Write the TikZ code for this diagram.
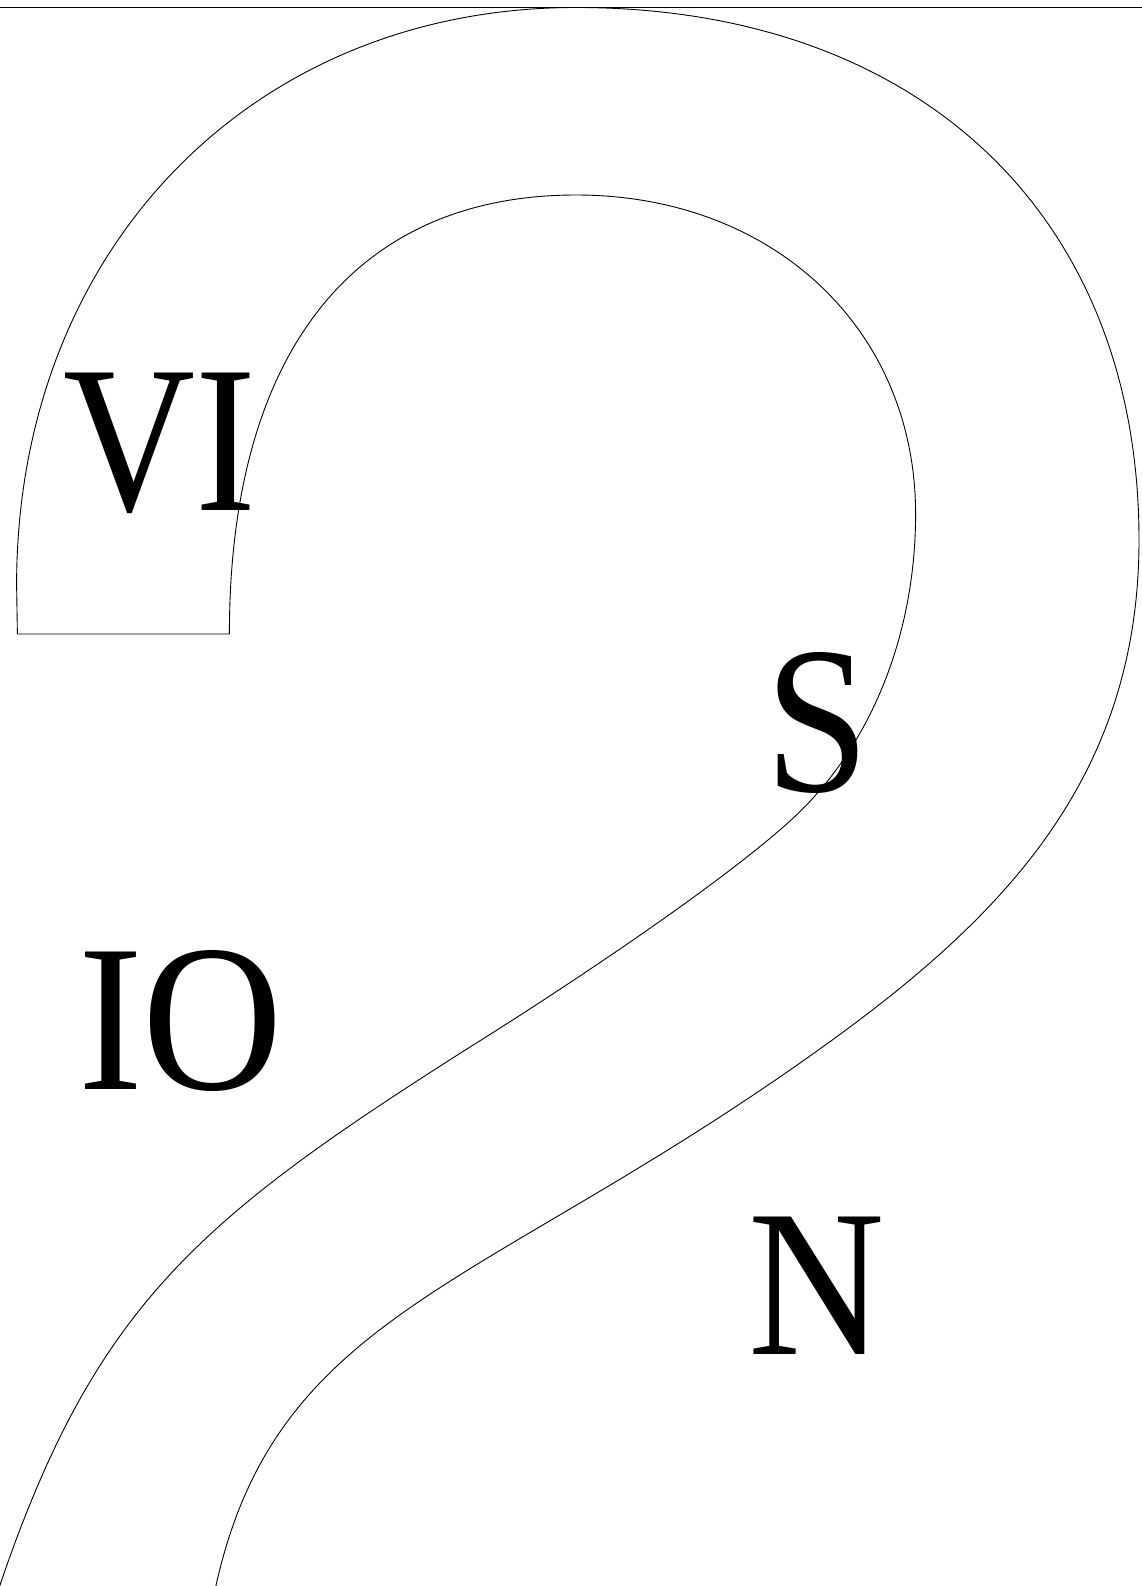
\documentclass[tikz,border=0pt]{standalone}
\usepackage{fontspec}
\setmainfont{Liberation Serif}
\begin{document}
\begin{tikzpicture}[x=1pt,y=-1pt,
  edge/.style={line width=0.9pt, line join=round},
  lbl/.style={inner sep=0pt, outer sep=0pt, font=\fontsize{210}{210}\selectfont, text height=137.5pt, text depth=0pt, anchor=center}]
\useasboundingbox (0,0) rectangle (1142,1586);
% top rule
\draw[line width=1pt] (0,7.5) -- (1142,7.5);
% band outline
\draw[edge] (-1,1588) .. controls (95,1304) and (200,1218.5) .. (470,1047)
  .. controls (555,994) and (716,888) .. (790,821)
  .. controls (871.4,747.3) and (915.6,634) .. (915.6,514)
  .. controls (915.6,329) and (773,195) .. (576,195)
  .. controls (354,195) and (229.4,353) .. (229.4,634)
  -- (17.4,634) -- (16.6,585)
  .. controls (16.6,250) and (251.5,7.5) .. (576,7.5)
  .. controls (919.4,7.5) and (1139,215) .. (1139,540)
  .. controls (1139,790) and (988.6,930.75) .. (800,1063)
  .. controls (472,1293) and (273.8,1316.4) .. (215,1590);
% labels
\node[lbl] (vi) at (159.5,441.5) {\scalebox{0.87}[1]{VI}};
\node[lbl] (io) at (180.6,1021) {\scalebox{0.926}[1]{IO}};
\node[lbl] (s)  at (817.4,722.3) {\scalebox{0.89}[1]{S}};
\node[lbl] (n)  at (816.5,1285.4) {\scalebox{0.90}[1]{N}};
\end{tikzpicture}
\end{document}
